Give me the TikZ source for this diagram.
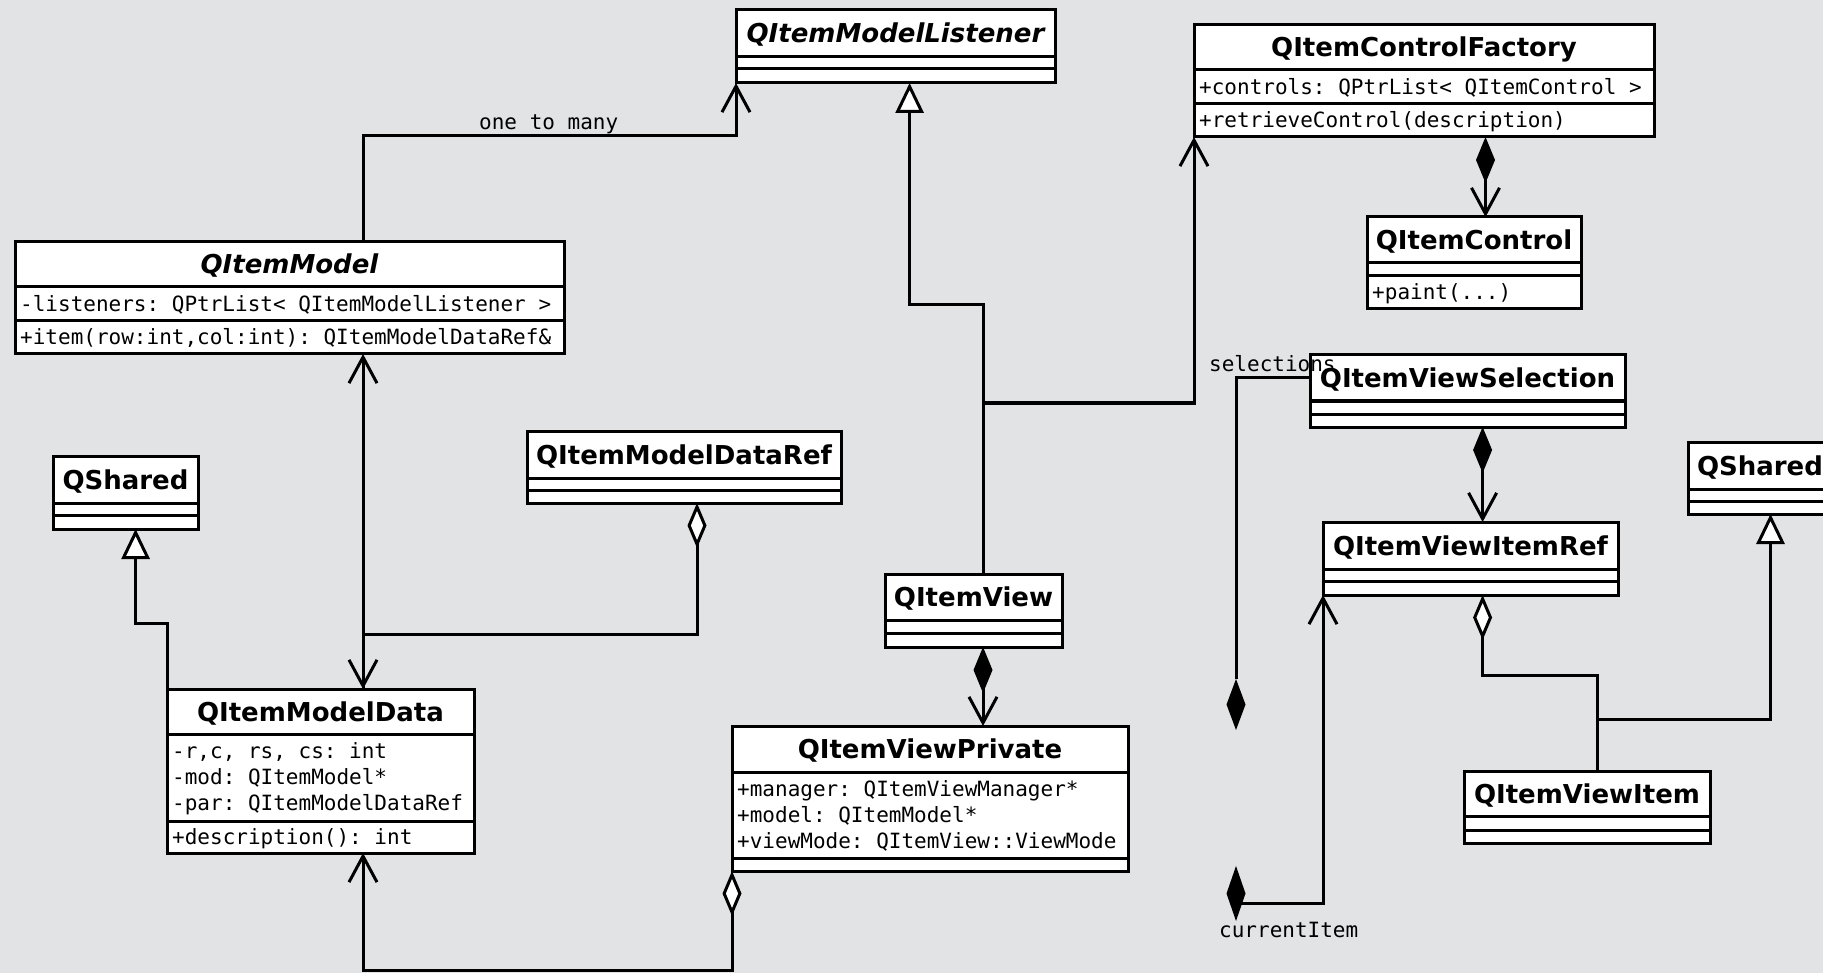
\documentclass[tikz,border=0pt]{standalone}
\usepackage{fontspec}
\usetikzlibrary{arrows.meta,shapes.geometric}
\newfontfamily\dejasans{DejaVu Sans}
\newfontfamily\dejamono{DejaVu Sans Mono}
\definecolor{paper}{RGB}{226,227,228}
\frenchspacing
\newcommand\titlef{\dejasans\bfseries\fontsize{26}{30}\selectfont}
\newcommand\titlefi{\dejasans\bfseries\itshape\fontsize{26}{30}\selectfont}
\newcommand\monof{\dejamono\frenchspacing\fontsize{21}{26}\selectfont}
\newcommand\umlcls[5]{%
  \pgfmathsetmacro\clsw{#4-#2}\pgfmathsetmacro\clsh{#5-#3}%
  \node[cls, minimum width=\clsw pt, minimum height=\clsh pt] (#1) at (#2,#3) {};}
\newcommand\umldiv[2]{\draw[divl] (#1.west |- 0,#2) -- (#1.east |- 0,#2);}
\begin{document}
\begin{tikzpicture}[x=1pt,y=-1pt,
  cls/.style={draw=black, fill=white, line width=3pt, inner sep=0pt, outer sep=0pt, anchor=north west},
  divl/.style={draw=black, line width=3pt},
  ttl/.style={font=\titlef, anchor=base, inner sep=0pt},
  ttli/.style={font=\titlefi, anchor=base, inner sep=0pt},
  mono/.style={font=\monof, anchor=base west, inner sep=0pt},
  conn/.style={draw=black, line width=3pt},
  assoc/.style={conn, arrows={-Straight Barb[length=26pt,width=28pt]}},
  gen/.style={conn, arrows={-Triangle[length=30pt,width=28pt,fill=white]}},
  comp/.style={conn, arrows={Diamond[length=46pt,width=19pt]-Straight Barb[length=26pt,width=28pt]}},
  agg/.style={conn, arrows={Diamond[length=45pt,width=19pt,fill=white]-Straight Barb[length=26pt,width=28pt]}},
  aggn/.style={conn, arrows={Diamond[length=45pt,width=19pt,fill=white]-}},
  dia/.style={diamond, fill=black, draw=none, inner sep=0pt, outer sep=0pt, minimum width=19pt},
]
\fill[paper] (0,0) rectangle (1823,973);
\useasboundingbox (0,0) rectangle (1823,973);

% ---- classes ----
\umlcls{qml}{736}{10}{1055}{83}
\umldiv{qml}{57}\umldiv{qml}{69}
\node[ttli] (qml-t) at (895.5,43) {QItemModelListener};

\umlcls{qm}{15}{242}{564}{354}
\umldiv{qm}{287}\umldiv{qm}{321}
\node[ttli] (qm-t) at (289.5,274) {QItemModel};
\node[mono] (qm-a) at (20,311.5) {-listeners: QPtrList< QItemModelListener >};
\node[mono] (qm-m) at (20,345) {+item(row:int,col:int): QItemModelDataRef\&};

\umlcls{qcf}{1194}{25}{1654}{137}
\umldiv{qcf}{70}\umldiv{qcf}{104}
\node[ttl] (qcf-t) at (1424,57) {QItemControlFactory};
\node[mono] (qcf-a) at (1199,94.5) {+controls: QPtrList< QItemControl >};
\node[mono] (qcf-m) at (1199,128) {+retrieveControl(description)};

\umlcls{qc}{1367}{217}{1581}{309}
\umldiv{qc}{263}\umldiv{qc}{276}
\node[ttl] (qc-t) at (1474,249.5) {QItemControl};
\node[mono] (qc-m) at (1372,300) {+paint(...)};

\umlcls{qsa}{53}{456}{198}{529}
\umldiv{qsa}{503}\umldiv{qsa}{515}
\node[ttl] (qsa-t) at (125.5,489) {QShared};

\umlcls{qmdr}{527}{431}{841}{503}
\umldiv{qmdr}{478}\umldiv{qmdr}{490}
\node[ttl] (qmdr-t) at (684,464) {QItemModelDataRef};

\umlcls{qmd}{167}{689}{474}{853}
\umldiv{qmd}{734}\umldiv{qmd}{821}
\node[ttl] (qmd-t) at (320.5,721) {QItemModelData};
\node[mono] (qmd-a1) at (172,758.5) {-r,c, rs, cs: int};
\node[mono] (qmd-a2) at (172,784.5) {-mod: QItemModel*};
\node[mono] (qmd-a3) at (172,810.5) {-par: QItemModelDataRef};
\node[mono] (qmd-m) at (172,844.5) {+description(): int};

\umlcls{qv}{885}{574}{1062}{647}
\umldiv{qv}{620}\umldiv{qv}{633}
\node[ttl] (qv-t) at (973.5,606.5) {QItemView};

\umlcls{qvp}{732}{726}{1128}{871}
\umldiv{qvp}{772}\umldiv{qvp}{858}
\node[ttl] (qvp-t) at (930,758.5) {QItemViewPrivate};
\node[mono] (qvp-a1) at (737,796) {+manager: QItemViewManager*};
\node[mono] (qvp-a2) at (737,822.5) {+model: QItemModel*};
\node[mono] (qvp-a3) at (737,848.5) {+viewMode: QItemView::ViewMode};

\umlcls{qvs}{1310}{355}{1625}{427}
\umldiv{qvs}{401}\umldiv{qvs}{414}
\node[ttl] (qvs-t) at (1467.5,387.5) {QItemViewSelection};

\umlcls{qvir}{1323}{522}{1618}{595}
\umldiv{qvir}{569}\umldiv{qvir}{581}
\node[ttl] (qvir-t) at (1470.5,555) {QItemViewItemRef};

\umlcls{qsb}{1688}{442}{1832}{514}
\umldiv{qsb}{489}\umldiv{qsb}{501}
\node[ttl] (qsb-t) at (1760,475) {QShared};

\umlcls{qvi}{1464}{771}{1710}{843}
\umldiv{qvi}{816}\umldiv{qvi}{830}
\node[ttl] (qvi-t) at (1587,803) {QItemViewItem};

% free diamonds
\node[dia, minimum height=51pt] (seldia) at (1236,704.5) {};
\node[dia, minimum height=55pt] (cidia) at (1236,893.5) {};

% ---- connectors ----
\draw[assoc] (qm.north -| 363,0) |- (736,136) -- (qml.south west);
\draw[assoc] (qmd.north -| 363,0) -- (qm.south -| 363,0);
\draw[agg] (qmdr.south -| 697,0) |- (363,634) -- (qmd.north -| 363,0);
\draw[gen] (qmd.north west) |- (135.6,623) -- (qsa.south -| 135.6,0);
\draw[agg] (qvp.south west) |- (363,970.5) -- (qmd.south -| 363,0);
\draw[gen] (qv.north -| 983,0) |- (909.6,305) -- (qml.south -| 909.6,0);
\draw[assoc] (qv.north -| 983,0) |- (1194,403) -- (qcf.south west);
\draw[comp] (qv.south -| 983,0) -- (qvp.north -| 983,0);
\draw[comp] (qcf.south -| 1485.5,0) -- (qc.north -| 1485.5,0);
\draw[comp] (qvs.south -| 1482.6,0) -- (qvir.north -| 1482.6,0);
\draw[aggn] (qvir.south -| 1482.6,0) |- (1597.5,675) -- (qvi.north -| 1597.5,0);
\draw[gen] (qvi.north -| 1597.5,0) |- (1770.5,719.5) -- (qsb.south -| 1770.5,0);
\draw[conn] (qvs.north west |- 0,378) -| (seldia.north);
\draw[assoc] (cidia.center |- 0,903) -| (qvir.south west);

% ---- labels ----
\node[mono] (lbl-otm) at (479,130) {one to many};
\node[mono] (lbl-sel) at (1209,371.5) {selections};
\node[mono] (lbl-cur) at (1219,937.5) {currentItem};
\end{tikzpicture}
\end{document}
